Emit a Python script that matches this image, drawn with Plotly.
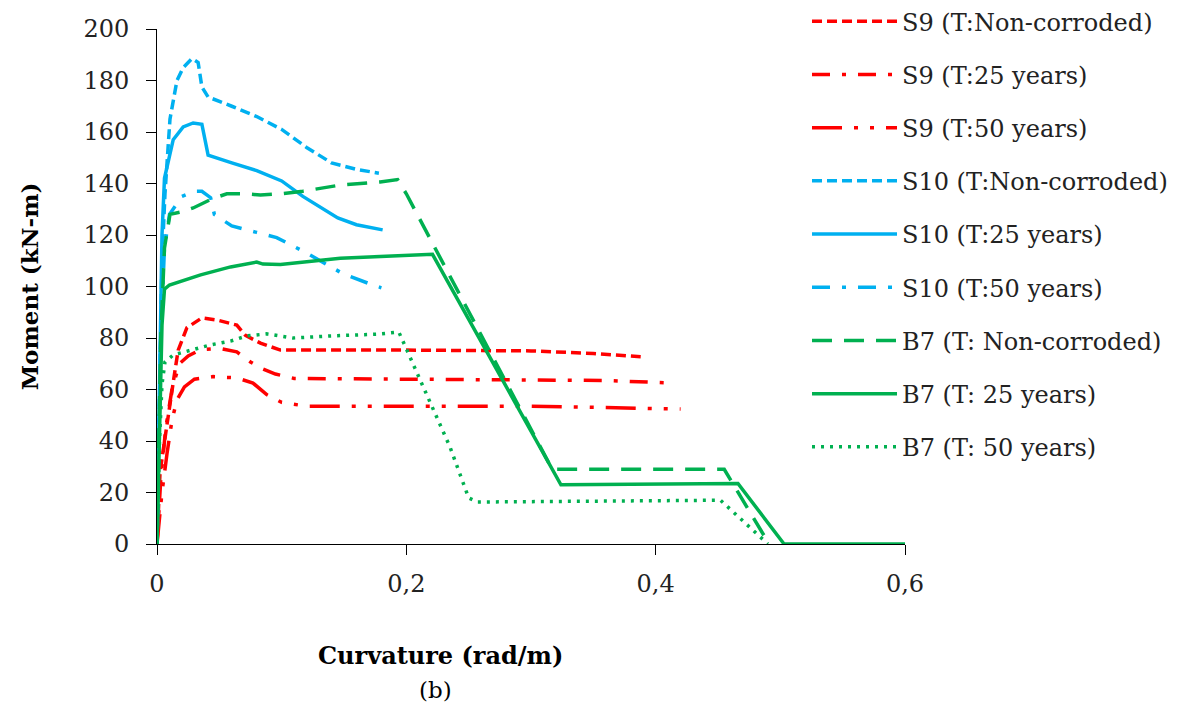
import plotly.graph_objects as go

# ---------------- data (curvature rad/m, moment kN-m) ----------------
s9_nc_x = [0, 0.0024, 0.005, 0.008, 0.012, 0.0145, 0.017, 0.024, 0.036, 0.048, 0.064, 0.071, 0.083, 0.099, 0.2, 0.3, 0.35, 0.388]
s9_nc_y = [0, 27.6, 36.5, 47, 60, 67.6, 75.3, 84, 87.8, 87, 85, 81, 78, 75.3, 75.3, 75, 74, 72.7]

s9_25_x = [0, 0.003, 0.007, 0.012, 0.018, 0.025, 0.035, 0.05, 0.064, 0.075, 0.085, 0.095, 0.11, 0.2, 0.3, 0.36, 0.41]
s9_25_y = [0, 25, 45, 60, 70, 73, 75.5, 76, 74.6, 70.7, 68, 66, 64.3, 64, 64, 63.5, 62.6]

s9_50_x = [0, 0.004, 0.008, 0.012, 0.016, 0.022, 0.03, 0.045, 0.064, 0.077, 0.088, 0.1, 0.12, 0.2, 0.3, 0.36, 0.42]
s9_50_y = [0, 20, 35, 48, 56, 61, 64, 65, 64.5, 62.5, 58, 55, 53.5, 53.5, 53.5, 53, 52.4]

s10_nc_x = [0, 0.002, 0.004, 0.0064, 0.0104, 0.016, 0.021, 0.028, 0.033, 0.036, 0.041, 0.06, 0.08, 0.1, 0.12, 0.14, 0.16, 0.178]
s10_nc_y = [0, 60, 110, 136, 165, 180, 185, 188.5, 187, 177.5, 173.6, 170, 166, 161, 154, 148, 145.5, 144]

s10_25_x = [0, 0.002, 0.004, 0.006, 0.009, 0.013, 0.021, 0.029, 0.036, 0.041, 0.06, 0.08, 0.1, 0.117, 0.145, 0.16, 0.181]
s10_25_y = [0, 70, 120, 142, 149, 157, 162, 163.5, 163, 151, 148, 145, 141, 135, 126.6, 124, 122]

s10_50_x = [0, 0.003, 0.006, 0.01, 0.02, 0.03, 0.036, 0.043, 0.046, 0.06, 0.08, 0.096, 0.12, 0.149, 0.173, 0.18]
s10_50_y = [0, 80, 115, 128, 135, 137, 137, 134.5, 128, 123.5, 121, 119, 113, 105, 100.6, 99.5]

b7_nc_x = [0, 0.003, 0.006, 0.0104, 0.02, 0.029, 0.044, 0.056, 0.071, 0.083, 0.099, 0.117, 0.147, 0.179, 0.193, 0.2, 0.317, 0.455, 0.491]
b7_nc_y = [0, 80, 115, 128, 129, 130.5, 134, 136, 136, 135.5, 136, 137, 139.4, 140.6, 141.5, 136, 29, 29, 0]

b7_25_x = [0, 0.002, 0.004, 0.006, 0.01, 0.035, 0.059, 0.08, 0.085, 0.099, 0.147, 0.221, 0.324, 0.466, 0.503, 0.6]
b7_25_y = [0, 50, 85, 99, 100.6, 104.5, 107.6, 109.5, 108.7, 108.5, 111, 112.5, 23, 23.5, 0, 0]

b7_50_x = [0, 0.002, 0.004, 0.0064, 0.013, 0.028, 0.0426, 0.059, 0.072, 0.088, 0.109, 0.139, 0.177, 0.194, 0.235, 0.25, 0.257, 0.452, 0.49]
b7_50_y = [0, 40, 62, 70.7, 73.4, 75.3, 77.3, 78.8, 80.8, 81.6, 80, 80.8, 81.5, 82.3, 37.7, 17.9, 16.3, 17, 0]

names = ["S9 (T:Non-corroded)", "S9 (T:25 years)", "S9 (T:50 years)",
         "S10 (T:Non-corroded)", "S10 (T:25 years)", "S10 (T:50 years)",
         "B7 (T: Non-corroded)", "B7 (T: 25 years)", "B7 (T: 50 years)"]

x_ticks = [0, 0.2, 0.4, 0.6]
x_ticktext = ["0", "0,2", "0,4", "0,6"]
y_ticks = [0, 20, 40, 60, 80, 100, 120, 140, 160, 180, 200]

RED = "#FF0000"
BLUE = "#00B0F0"
GREEN = "#00B050"

series = [
    (s9_nc_x, s9_nc_y, RED, "10px,5px"),
    (s9_25_x, s9_25_y, RED, "18px,12px,4px,12px"),
    (s9_50_x, s9_50_y, RED, "30px,12px,4px,12px,4px,12px"),
    (s10_nc_x, s10_nc_y, BLUE, "10px,5px"),
    (s10_25_x, s10_25_y, BLUE, "solid"),
    (s10_50_x, s10_50_y, BLUE, "18px,12px,4px,12px"),
    (b7_nc_x, b7_nc_y, GREEN, "20px,12px"),
    (b7_25_x, b7_25_y, GREEN, "solid"),
    (b7_50_x, b7_50_y, GREEN, "3px,6px"),
]

fig = go.Figure()
for i, ((xs, ys, col, dash), nm) in enumerate(zip(series, names)):
    fig.add_trace(go.Scatter(
        x=xs, y=ys, mode="lines", name=nm, legendgroup=f"g{i}",
        line=dict(color=col, width=3.5, dash=dash),
    ))

FONT = "DejaVu Serif"
L, T, W, H = 157, 29, 748, 515  # plot area in px (for paper-coordinate annotations)

fig.update_layout(
    width=1177, height=724,
    paper_bgcolor="white", plot_bgcolor="white",
    margin=dict(l=L, r=1177 - L - W, t=T, b=724 - T - H, autoexpand=False),
    font=dict(family=FONT, color="black", size=24),
    separators=", ",
    showlegend=True,
    legend=dict(
        x=0.869, xanchor="left", y=1.058, yanchor="top",
        bgcolor="rgba(0,0,0,0)", font=dict(family=FONT, size=24, color="#222"),
        itemwidth=85, tracegroupgap=19, traceorder="grouped", maxheight=720,
    ),
    xaxis=dict(
        range=[0, 0.6], tickvals=x_ticks, ticktext=x_ticktext,
        showgrid=False, zeroline=False, showline=True, linecolor="black", linewidth=1,
        ticks="outside", ticklen=10, tickcolor="black",
        tickfont=dict(family=FONT, size=24, color="#222"),
        ticklabelstandoff=8,
    ),
    yaxis=dict(
        range=[0, 200], tickvals=y_ticks,
        showgrid=False, zeroline=False, showline=True, linecolor="black", linewidth=1,
        ticks="outside", ticklen=10, tickcolor="black",
        tickfont=dict(family=FONT, size=24, color="#222"),
        ticklabelstandoff=12,
        title=dict(text="<b>Moment (kN-m)</b>", font=dict(family=FONT, size=23, color="black"), standoff=38),
    ),
    annotations=[
        dict(text="<b>Curvature (rad/m)</b>", xref="paper", yref="paper",
             x=(440 - L) / W, y=(T + H - 655) / H, xanchor="center", yanchor="middle",
             showarrow=False, font=dict(family=FONT, size=24, color="black")),
        dict(text="(b)", xref="paper", yref="paper",
             x=(435 - L) / W, y=(T + H - 690) / H, xanchor="center", yanchor="middle",
             showarrow=False, font=dict(family=FONT, size=23, color="black")),
    ],
)

fig.write_html("out.html")
